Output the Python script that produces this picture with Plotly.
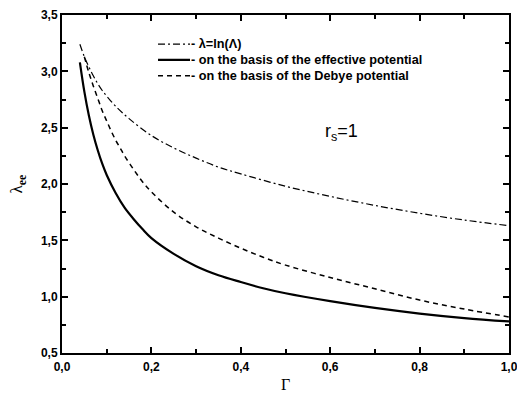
import plotly.graph_objects as go

# Γ values and λ_ee curves
g_ln = [0.04, 0.05, 0.06, 0.07, 0.08, 0.09, 0.10, 0.12, 0.15, 0.2, 0.25, 0.3, 0.35, 0.4, 0.5, 0.6, 0.7, 0.8, 0.9, 1.0]
lam_ln = [3.24, 3.13, 3.04, 2.96, 2.89, 2.83, 2.78, 2.69, 2.58, 2.43, 2.32, 2.23, 2.15, 2.09, 1.98, 1.89, 1.81, 1.74, 1.68, 1.63]

g_eff = [0.04, 0.05, 0.06, 0.07, 0.08, 0.09, 0.10, 0.12, 0.14, 0.16, 0.18, 0.2, 0.25, 0.3, 0.35, 0.4, 0.45, 0.5, 0.6, 0.7, 0.8, 0.9, 1.0]
lam_eff = [3.08, 2.82, 2.61, 2.44, 2.30, 2.18, 2.08, 1.92, 1.79, 1.69, 1.60, 1.52, 1.38, 1.27, 1.19, 1.13, 1.075, 1.03, 0.96, 0.90, 0.85, 0.81, 0.78]

g_deb = [0.05, 0.06, 0.07, 0.08, 0.09, 0.10, 0.11, 0.12, 0.13, 0.14, 0.16, 0.18, 0.2, 0.25, 0.3, 0.35, 0.4, 0.45, 0.5, 0.6, 0.7, 0.8, 0.9, 1.0]
lam_deb = [3.13, 2.99, 2.87, 2.76, 2.65, 2.56, 2.47, 2.39, 2.32, 2.25, 2.13, 2.02, 1.93, 1.75, 1.62, 1.52, 1.43, 1.35, 1.28, 1.17, 1.07, 0.97, 0.89, 0.82]

names = ["- λ=ln(Λ)", "- on the basis of the effective potential", "- on the basis of the Debye potential"]
styles = [dict(color="black", width=1.2, dash="7px,3px,2px,3px"),
          dict(color="black", width=2.2),
          dict(color="black", width=1.5, dash="5px,4px")]

fig = go.Figure()
for gx, ly, nm, st in zip([g_ln, g_eff, g_deb], [lam_ln, lam_eff, lam_deb], names, styles):
    fig.add_trace(go.Scatter(x=gx, y=ly, mode="lines", name=nm, showlegend=False,
                             line=dict(shape="spline", **st)))

axis_common = dict(showline=True, linecolor="black", linewidth=2, mirror="ticks",
                   ticks="inside", ticklen=6, tickwidth=2, tickcolor="black",
                   showgrid=False, zeroline=False, automargin=False, ticklabeloverflow="allow",
                   tickfont=dict(family="Liberation Sans, Arial", size=12, color="black", weight="bold"))

fig.update_xaxes(range=[0, 1.0], dtick=0.2, tick0=0, tickformat=".1f", ticklabelstandoff=2,
                 minor=dict(dtick=0.1, ticks="inside", ticklen=4, tickwidth=1.5, tickcolor="black"),
                 title=dict(text="Γ", font=dict(family="Liberation Serif, Times New Roman", size=16, color="black"), standoff=5),
                 **axis_common)
fig.update_yaxes(range=[0.5, 3.5], dtick=0.5, tick0=0.5, tickformat=".1f",
                 minor=dict(dtick=0.25, ticks="inside", ticklen=4, tickwidth=1.5, tickcolor="black"),
                 title=dict(text="λ<sub><b>ee</b></sub>", font=dict(family="Liberation Serif, Times New Roman", size=17, color="black"), standoff=14),
                 **axis_common)

# custom legend (sample lines + labels)
leg_x0, leg_x1, leg_tx = 0.2148, 0.2864, 0.284
leg_rows = [0.914, 0.867, 0.820]
for nm, st, yy in zip(names, styles, leg_rows):
    fig.add_shape(type="line", xref="paper", yref="paper", x0=leg_x0, x1=leg_x1, y0=yy, y1=yy, line=st)
    fig.add_annotation(xref="paper", yref="paper", x=leg_tx, y=yy, xanchor="left", yanchor="middle",
                       text=nm, showarrow=False,
                       font=dict(family="Liberation Sans, Arial", size=12.7, color="black", weight="bold"))

fig.add_annotation(xref="paper", yref="paper", x=0.626, y=0.651, text="r<sub>s</sub>=1",
                   showarrow=False, font=dict(family="Liberation Sans, Arial", size=18, color="black"))

fig.update_layout(
    width=517, height=396,
    margin=dict(l=62, r=8, t=15, b=43),
    plot_bgcolor="white", paper_bgcolor="white",
    separators=",.",
    showlegend=False,
)

fig.write_html("out.html")
